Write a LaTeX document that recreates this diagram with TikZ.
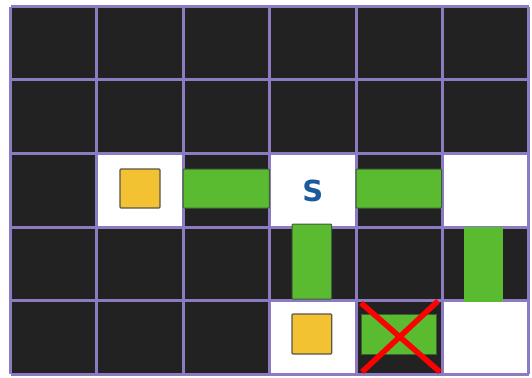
\documentclass[tikz,border=0pt]{standalone}
\usepackage{fontspec}
\setmainfont{DejaVu Sans}
\definecolor{cellbg}{HTML}{222222}
\definecolor{gridc}{HTML}{8C7BC0}
\definecolor{yel}{HTML}{F2C232}
\definecolor{yelb}{HTML}{5A5548}
\definecolor{grn}{HTML}{5ABB30}
\definecolor{grnb}{HTML}{3E5E36}
\definecolor{sblue}{HTML}{1C5A9A}
\tikzset{
  cellfill/.style={fill=cellbg},
  freecell/.style={fill=white},
  gridline/.style={draw=gridc,line width=3pt},
  goldbox/.style={fill=yel,draw=yelb,line width=1.2pt},
  bar/.style={fill=grn,draw=grnb,line width=1pt},
  barplain/.style={fill=grn},
  cross/.style={draw=red,line width=5.5pt},
}
\begin{document}
\begin{tikzpicture}[x=1pt,y=-1pt]
\useasboundingbox (0,0) rectangle (532,377);
% background cells
\fill[cellfill] (10.5,6.7) rectangle (528.5,374);
% white cells
\fill[freecell] (96.8,153.5) rectangle (183,227);
\fill[freecell] (269.5,153.5) rectangle (356,227);
\fill[freecell] (442,153.5) rectangle (528.5,227);
\fill[freecell] (269.5,300.5) rectangle (356,374);
\fill[freecell] (442,300.5) rectangle (528.5,374);
% grid
\foreach \x in {10.5,96.8,183,269.5,356,442,528.5}
  \draw[gridline] (\x,6.7) -- (\x,374);
\foreach \y in {6.7,80,153.5,227,300.5,374}
  \draw[gridline] (10.5,\y) -- (528.5,\y);
% items
\draw[goldbox, rounded corners=1pt] (120,169) rectangle (160,208);
\draw[goldbox, rounded corners=1pt] (292,314) rectangle (331.7,354);
\draw[bar, rounded corners=1pt] (183,169) rectangle (269.3,208);
\draw[bar, rounded corners=1pt] (356,169) rectangle (441.7,208);
\draw[bar, rounded corners=1pt] (292,224) rectangle (331.7,299);
\fill[barplain] (464,227) rectangle (503,301.5);
\draw[bar] (361,314) rectangle (436.7,354);
\node[text=sblue, font=\bfseries\fontsize{29}{29}\selectfont, inner sep=0pt] (s) at (312.7,191) {S};
\coordinate (xa) at (361,303);
\coordinate (xb) at (440,372);
\coordinate (xc) at (438,301);
\coordinate (xd) at (362,372);
\draw[cross] (xa) -- (xb);
\draw[cross] (xc) -- (xd);
\end{tikzpicture}
\end{document}
